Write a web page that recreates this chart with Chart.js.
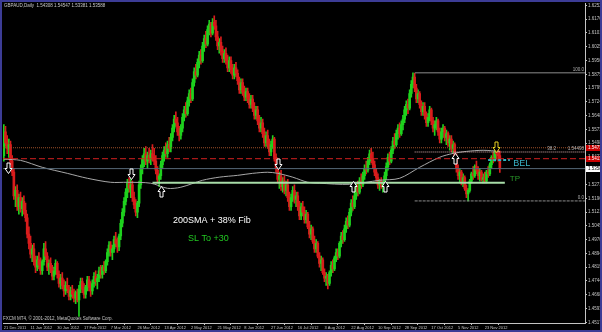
<!DOCTYPE html>
<html>
<head>
    <title>GBPAUD Daily</title>
    <meta charset="UTF-8">
    <script src="https://cdn.jsdelivr.net/npm/chart.js@4.4.0/dist/chart.umd.min.js"></script>
    <style>
        html, body { margin: 0; padding: 0; background-color: #000; }
        #wrap { width: 602px; height: 332px; }
    </style>
</head>
<body>
<div id="wrap"><canvas id="chart" width="602" height="332"></canvas></div>
<script>
// ---- data ----
var headerText = 'GBPAUD,Daily  1.54308 1.54547 1.53381 1.53588';
var footerText = 'FXCM MT4, \u00a9 2001-2012, MetaQuotes Software Corp.';

var dateLabels = ['21 Dec 2011', '11 Jan 2012', '30 Jan 2012', '17 Feb 2012', '7 Mar 2012', '26 Mar 2012',
    '13 Apr 2012', '2 May 2012', '21 May 2012', '8 Jun 2012', '27 Jun 2012', '16 Jul 2012', '3 Aug 2012',
    '22 Aug 2012', '10 Sep 2012', '28 Sep 2012', '17 Oct 2012', '5 Nov 2012', '23 Nov 2012'];
var dateBars = [0, 16, 32, 48, 64, 80, 96, 112, 128, 144, 160, 176, 192, 208, 224, 240, 256, 272, 288];

var priceTicks = [1.62520, 1.61766, 1.61012, 1.60258, 1.59504, 1.58750, 1.57996, 1.57242, 1.56488, 1.55734,
    1.54980, 1.54226, 1.53472, 1.52718, 1.51964, 1.51210, 1.50456, 1.49702, 1.48948, 1.48194, 1.47440,
    1.46686, 1.45932, 1.45178];

var opens = [
1.5430,1.5560,1.5500,1.5470,1.5490,1.5400, 1.5340,1.5210,1.5240,1.5150,1.5200,1.5140,
1.5180,1.5130,1.5090,1.5000,1.4950,1.4890, 1.4920,1.4850,1.4820,1.4860,1.4830,1.4800,
1.4850,1.4920,1.4880,1.4820,1.4840,1.4810, 1.4770,1.4800,1.4840,1.4780,1.4730,1.4760,
1.4720,1.4690,1.4720,1.4700,1.4660,1.4690, 1.4670,1.4650,1.4680,1.4640,1.4700,1.4740,
1.4700,1.4670,1.4710,1.4750,1.4710,1.4690, 1.4730,1.4770,1.4740,1.4760,1.4800,1.4780,
1.4820,1.4800,1.4850,1.4900,1.4940,1.4900, 1.4920,1.4970,1.4950,1.4930,1.4990,1.5060,
1.5120,1.5180,1.5230,1.5280,1.5250,1.5270, 1.5200,1.5160,1.5120,1.5170,1.5270,1.5360,
1.5410,1.5440,1.5400,1.5430,1.5410,1.5440, 1.5420,1.5400,1.5350,1.5300,1.5320,1.5380,
1.5430,1.5460,1.5440,1.5490,1.5470,1.5530, 1.5580,1.5630,1.5610,1.5560,1.5540,1.5580,
1.5640,1.5680,1.5660,1.5730,1.5770,1.5740, 1.5830,1.5890,1.5870,1.5940,1.5980,1.5950,
1.6030,1.6070,1.6040,1.6120,1.6150,1.6100, 1.6160,1.6140,1.6080,1.6030,1.6050,1.6000,
1.5960,1.5990,1.5950,1.5910,1.5950,1.5900, 1.5870,1.5910,1.5880,1.5840,1.5790,1.5830,
1.5780,1.5750,1.5780,1.5740,1.5710,1.5740, 1.5690,1.5650,1.5680,1.5620,1.5580,1.5610,
1.5550,1.5500,1.5540,1.5490,1.5450,1.5490, 1.5520,1.5420,1.5360,1.5300,1.5320,1.5260,
1.5290,1.5240,1.5270,1.5200,1.5150,1.5200, 1.5240,1.5190,1.5210,1.5150,1.5100,1.5150,
1.5120,1.5080,1.5110,1.5040,1.5000,1.5030, 1.4960,1.4920,1.4950,1.4880,1.4840,1.4860,
1.4790,1.4760,1.4770,1.4730,1.4790,1.4830, 1.4810,1.4870,1.4900,1.4880,1.4950,1.4990,
1.4970,1.5030,1.5070,1.5050,1.5120,1.5170, 1.5150,1.5210,1.5260,1.5230,1.5290,1.5270,
1.5320,1.5360,1.5350,1.5400,1.5440,1.5410, 1.5380,1.5340,1.5310,1.5270,1.5290,1.5260,
1.5280,1.5320,1.5370,1.5420,1.5400,1.5460, 1.5510,1.5490,1.5550,1.5580,1.5550,1.5600,
1.5630,1.5680,1.5710,1.5690,1.5770,1.5820, 1.5860,1.5800,1.5740,1.5770,1.5710,1.5670,
1.5700,1.5650,1.5610,1.5640,1.5680,1.5620, 1.5580,1.5600,1.5620,1.5560,1.5520,1.5560,
1.5580,1.5530,1.5550,1.5500,1.5520,1.5470, 1.5490,1.5420,1.5360,1.5320,1.5340,1.5290,
1.5310,1.5250,1.5220,1.5240,1.5290,1.5330, 1.5320,1.5370,1.5350,1.5320,1.5340,1.5300,
1.5310,1.5290,1.5340,1.5330,1.5380,1.5420, 1.5410,1.5450,1.5440,1.54308];

var highs = [
1.5600,1.5590,1.5540,1.5520,1.5510,1.5430, 1.5360,1.5260,1.5270,1.5220,1.5230,1.5200,
1.5210,1.5170,1.5110,1.5040,1.4990,1.4940, 1.4950,1.4880,1.4880,1.4900,1.4870,1.4860,
1.4950,1.4960,1.4900,1.4860,1.4870,1.4830, 1.4820,1.4860,1.4850,1.4800,1.4780,1.4790,
1.4750,1.4740,1.4760,1.4720,1.4710,1.4720, 1.4700,1.4690,1.4700,1.4720,1.4760,1.4760,
1.4730,1.4720,1.4770,1.4770,1.4740,1.4750, 1.4790,1.4800,1.4780,1.4820,1.4830,1.4830,
1.4850,1.4860,1.4920,1.4960,1.4960,1.4940, 1.4990,1.5010,1.4980,1.5000,1.5080,1.5140,
1.5200,1.5250,1.5300,1.5310,1.5300,1.5290, 1.5230,1.5190,1.5180,1.5290,1.5380,1.5430,
1.5470,1.5480,1.5450,1.5470,1.5460,1.5490, 1.5470,1.5430,1.5370,1.5330,1.5400,1.5450,
1.5480,1.5500,1.5510,1.5530,1.5550,1.5600, 1.5650,1.5670,1.5640,1.5590,1.5600,1.5660,
1.5700,1.5720,1.5750,1.5790,1.5800,1.5850, 1.5910,1.5930,1.5960,1.6000,1.6010,1.6050,
1.6090,1.6110,1.6140,1.6170,1.6160,1.6180, 1.6195,1.6170,1.6110,1.6070,1.6080,1.6030,
1.6010,1.6020,1.5980,1.5970,1.5970,1.5930, 1.5930,1.5940,1.5900,1.5860,1.5850,1.5850,
1.5810,1.5800,1.5800,1.5770,1.5760,1.5760, 1.5720,1.5700,1.5700,1.5650,1.5640,1.5630,
1.5580,1.5560,1.5570,1.5520,1.5510,1.5540, 1.5530,1.5440,1.5380,1.5340,1.5350,1.5310,
1.5320,1.5290,1.5300,1.5230,1.5220,1.5260, 1.5270,1.5230,1.5230,1.5180,1.5170,1.5180,
1.5150,1.5130,1.5120,1.5070,1.5050,1.5040, 1.4990,1.4970,1.4960,1.4900,1.4880,1.4870,
1.4810,1.4790,1.4780,1.4800,1.4850,1.4860, 1.4880,1.4920,1.4920,1.4960,1.5010,1.5020,
1.5050,1.5090,1.5100,1.5140,1.5190,1.5210, 1.5230,1.5280,1.5290,1.5310,1.5330,1.5340,
1.5380,1.5400,1.5420,1.5460,1.5470,1.5450, 1.5400,1.5360,1.5330,1.5300,1.5310,1.5290,
1.5340,1.5390,1.5440,1.5450,1.5480,1.5530, 1.5550,1.5570,1.5600,1.5610,1.5620,1.5650,
1.5700,1.5730,1.5740,1.5790,1.5840,1.5883, 1.5880,1.5820,1.5790,1.5780,1.5730,1.5720,
1.5720,1.5670,1.5660,1.5700,1.5690,1.5640, 1.5620,1.5640,1.5630,1.5580,1.5580,1.5600,
1.5590,1.5570,1.5560,1.5540,1.5540,1.5510, 1.5500,1.5440,1.5380,1.5360,1.5350,1.5330,
1.5320,1.5270,1.5250,1.5300,1.5340,1.5370, 1.5380,1.5400,1.5370,1.5360,1.5350,1.5330,
1.5340,1.5350,1.5370,1.5390,1.5430,1.5450, 1.5470,1.5480,1.5470,1.54547];

var lows = [
1.5400,1.5480,1.5440,1.5420,1.5380,1.5320, 1.5190,1.5150,1.5130,1.5110,1.5120,1.5100,
1.5110,1.5070,1.4980,1.4920,1.4870,1.4850, 1.4830,1.4790,1.4800,1.4810,1.4780,1.4780,
1.4830,1.4860,1.4800,1.4780,1.4790,1.4750, 1.4750,1.4780,1.4760,1.4710,1.4700,1.4700,
1.4660,1.4670,1.4680,1.4640,1.4640,1.4650, 1.4630,1.4620,1.4630,1.4550,1.4680,1.4680,
1.4650,1.4650,1.4690,1.4690,1.4660,1.4670, 1.4710,1.4720,1.4700,1.4740,1.4760,1.4760,
1.4780,1.4790,1.4830,1.4880,1.4880,1.4860, 1.4900,1.4930,1.4900,1.4910,1.4970,1.5040,
1.5100,1.5160,1.5200,1.5230,1.5200,1.5180, 1.5140,1.5100,1.5090,1.5150,1.5250,1.5330,
1.5370,1.5380,1.5360,1.5390,1.5380,1.5400, 1.5380,1.5330,1.5280,1.5260,1.5300,1.5360,
1.5400,1.5420,1.5420,1.5450,1.5450,1.5510, 1.5560,1.5590,1.5540,1.5510,1.5520,1.5560,
1.5620,1.5640,1.5650,1.5700,1.5720,1.5730, 1.5810,1.5850,1.5860,1.5910,1.5930,1.5940,
1.6000,1.6020,1.6030,1.6090,1.6080,1.6090, 1.6120,1.6060,1.6010,1.5990,1.5980,1.5940,
1.5940,1.5930,1.5890,1.5890,1.5880,1.5850, 1.5850,1.5860,1.5820,1.5770,1.5770,1.5760,
1.5730,1.5730,1.5720,1.5690,1.5690,1.5670, 1.5630,1.5630,1.5600,1.5560,1.5560,1.5530,
1.5480,1.5480,1.5470,1.5430,1.5430,1.5470, 1.5400,1.5340,1.5280,1.5250,1.5240,1.5230,
1.5220,1.5210,1.5180,1.5130,1.5130,1.5180, 1.5170,1.5150,1.5130,1.5080,1.5080,1.5100,
1.5060,1.5060,1.5030,1.4980,1.4970,1.4950, 1.4900,1.4900,1.4870,1.4820,1.4800,1.4780,
1.4740,1.4720,1.4700,1.4720,1.4770,1.4790, 1.4800,1.4850,1.4860,1.4870,1.4930,1.4950,
1.4960,1.5010,1.5030,1.5040,1.5100,1.5130, 1.5140,1.5190,1.5210,1.5220,1.5250,1.5260,
1.5300,1.5330,1.5340,1.5380,1.5390,1.5360, 1.5320,1.5290,1.5250,1.5240,1.5250,1.5230,
1.5260,1.5300,1.5350,1.5380,1.5390,1.5440, 1.5470,1.5480,1.5520,1.5530,1.5540,1.5570,
1.5610,1.5650,1.5660,1.5680,1.5750,1.5800, 1.5780,1.5720,1.5720,1.5690,1.5650,1.5650,
1.5630,1.5590,1.5590,1.5620,1.5600,1.5560, 1.5540,1.5570,1.5540,1.5500,1.5500,1.5530,
1.5510,1.5490,1.5480,1.5460,1.5450,1.5440, 1.5410,1.5340,1.5300,1.5280,1.5270,1.5260,
1.5240,1.5200,1.5182,1.5230,1.5280,1.5300, 1.5310,1.5330,1.5300,1.5290,1.5290,1.5280,
1.5280,1.5280,1.5310,1.5320,1.5360,1.5390, 1.5400,1.5410,1.5400,1.53381];

var closes = [
1.5560,1.5500,1.5470,1.5490,1.5400,1.5340, 1.5210,1.5240,1.5150,1.5200,1.5140,1.5180,
1.5130,1.5090,1.5000,1.4950,1.4890,1.4920, 1.4850,1.4820,1.4860,1.4830,1.4800,1.4850,
1.4920,1.4880,1.4820,1.4840,1.4810,1.4770, 1.4800,1.4840,1.4780,1.4730,1.4760,1.4720,
1.4690,1.4720,1.4700,1.4660,1.4690,1.4670, 1.4650,1.4680,1.4640,1.4700,1.4740,1.4700,
1.4670,1.4710,1.4750,1.4710,1.4690,1.4730, 1.4770,1.4740,1.4760,1.4800,1.4780,1.4820,
1.4800,1.4850,1.4900,1.4940,1.4900,1.4920, 1.4970,1.4950,1.4930,1.4990,1.5060,1.5120,
1.5180,1.5230,1.5280,1.5250,1.5270,1.5200, 1.5160,1.5120,1.5170,1.5270,1.5360,1.5410,
1.5440,1.5400,1.5430,1.5410,1.5440,1.5420, 1.5400,1.5350,1.5300,1.5320,1.5380,1.5430,
1.5460,1.5440,1.5490,1.5470,1.5530,1.5580, 1.5630,1.5610,1.5560,1.5540,1.5580,1.5640,
1.5680,1.5660,1.5730,1.5770,1.5740,1.5830, 1.5890,1.5870,1.5940,1.5980,1.5950,1.6030,
1.6070,1.6040,1.6120,1.6150,1.6100,1.6160, 1.6140,1.6080,1.6030,1.6050,1.6000,1.5960,
1.5990,1.5950,1.5910,1.5950,1.5900,1.5870, 1.5910,1.5880,1.5840,1.5790,1.5830,1.5780,
1.5750,1.5780,1.5740,1.5710,1.5740,1.5690, 1.5650,1.5680,1.5620,1.5580,1.5610,1.5550,
1.5500,1.5540,1.5490,1.5450,1.5490,1.5520, 1.5420,1.5360,1.5300,1.5320,1.5260,1.5290,
1.5240,1.5270,1.5200,1.5150,1.5200,1.5240, 1.5190,1.5210,1.5150,1.5100,1.5150,1.5120,
1.5080,1.5110,1.5040,1.5000,1.5030,1.4960, 1.4920,1.4950,1.4880,1.4840,1.4860,1.4790,
1.4760,1.4770,1.4730,1.4790,1.4830,1.4810, 1.4870,1.4900,1.4880,1.4950,1.4990,1.4970,
1.5030,1.5070,1.5050,1.5120,1.5170,1.5150, 1.5210,1.5260,1.5230,1.5290,1.5270,1.5320,
1.5360,1.5350,1.5400,1.5440,1.5410,1.5380, 1.5340,1.5310,1.5270,1.5290,1.5260,1.5280,
1.5320,1.5370,1.5420,1.5400,1.5460,1.5510, 1.5490,1.5550,1.5580,1.5550,1.5600,1.5630,
1.5680,1.5710,1.5690,1.5770,1.5820,1.5860, 1.5800,1.5740,1.5770,1.5710,1.5670,1.5700,
1.5650,1.5610,1.5640,1.5680,1.5620,1.5580, 1.5600,1.5620,1.5560,1.5520,1.5560,1.5580,
1.5530,1.5550,1.5500,1.5520,1.5470,1.5490, 1.5420,1.5360,1.5320,1.5340,1.5290,1.5310,
1.5250,1.5220,1.5240,1.5290,1.5330,1.5320, 1.5370,1.5350,1.5320,1.5340,1.5300,1.5310,
1.5290,1.5340,1.5330,1.5380,1.5420,1.5410, 1.5450,1.5440,1.5430,1.53588];

// 200 SMA, read at these bars
var smaBars = [0, 10, 23, 38, 50, 64, 74, 88, 98, 106, 119, 129, 140, 149, 158, 164, 173, 182, 189,
    207, 225, 237, 249, 261, 269, 277, 287, 297];
var smaValues = [1.5410, 1.5404, 1.5366, 1.5333, 1.5306, 1.5284, 1.5284, 1.5279, 1.5251, 1.5257, 1.5295,
    1.5312, 1.5322, 1.5333, 1.5339, 1.5333, 1.5312, 1.5284, 1.5279, 1.5273, 1.5295, 1.5306, 1.5366,
    1.5421, 1.5442, 1.5453, 1.5459, 1.5453];

// horizontal objects: price, first bar, last bar
var levelNames = ['resistance', 'stop', 'bid', 'tp', 'fib100', 'fib382', 'fib0', 'bel'];
var levelPrices = [1.5473, 1.5413, 1.53588, 1.5282, 1.5883, 1.54498, 1.5182, 1.5406];
var levelFrom = [-0.5, -0.5, -0.5, 89, 246, 246, 246, 290];
var levelTo = [348, 348, 348, 300, 348, 348, 348, 303];

// arrows
var arrowBars = [2.5, 76, 94, 164, 209, 228, 270, 295];
var arrowPrices = [1.5361, 1.5328, 1.5235, 1.5383, 1.5262, 1.5262, 1.5415, 1.5478];
var arrowDirs = ['down', 'down', 'up', 'down', 'up', 'up', 'up', 'down'];

// text notes
var noteTexts = ['200SMA + 38% Fib', 'SL To +30', 'BEL', 'TP'];
var noteBars = [101.3, 110.3, 305, 303];
var notePrices = [1.5077, 1.4978, 1.5388, 1.5301];

// ---- styles ----
var UP = '#1ed21e', DOWN = '#d81c1c', AXIS = '#c4c4c4';
var levelStyles = {
    resistance: { color: '#a0502a', width: 1, dash: [1, 1] },
    stop: { color: '#d42020', width: 1, dash: [6, 3] },
    bid: { color: '#566878', width: 1, dash: [] },
    tp: { color: '#a8dca8', width: 2, dash: [] },
    fib100: { color: '#8c8c8c', width: 1, dash: [] },
    fib382: { color: '#dcb0b0', width: 1, dash: [1, 1] },
    fib0: { color: '#8c8c8c', width: 1, dash: [3, 1] },
    bel: { color: '#2cb4c4', width: 2, dash: [3, 2] }
};
var arrowColors = ['#fff', '#fff', '#fff', '#fff', '#fff', '#fff', '#fff', '#e8d020'];
var noteStyles = [
    { color: '#ffffff', font: '9px "Liberation Sans"' },
    { color: '#22c822', font: '9px "Liberation Sans"' },
    { color: '#3ab4c8', font: '9px "Liberation Sans"' },
    { color: '#2a9a2a', font: '8px "Liberation Sans"' }
];
var SMALL = '4.5px "Liberation Sans"';

function candleColors() {
    return closes.map(function (c, i) { return c >= opens[i] ? UP : DOWN; });
}

var datasets = [];

// level lines
levelNames.forEach(function (name, k) {
    var st = levelStyles[name];
    datasets.push({
        type: 'line',
        data: [{ x: levelFrom[k], y: levelPrices[k] }, { x: levelTo[k], y: levelPrices[k] }],
        borderColor: st.color,
        borderWidth: st.width,
        borderDash: st.dash,
        pointRadius: 0,
        order: 0
    });
});

// moving average
datasets.push({
    type: 'line',
    data: smaBars.map(function (b, i) { return { x: b, y: smaValues[i] }; }),
    borderColor: '#a8a8a8',
    borderWidth: 1,
    pointRadius: 0,
    tension: 0.3,
    order: 0
});

// candle bodies and wicks as floating bars
datasets.push({
    type: 'bar',
    data: opens.map(function (o, i) { return { x: i, y: [o, closes[i]] }; }),
    backgroundColor: candleColors(),
    barThickness: 2,
    grouped: false,
    borderWidth: 0,
    order: 1
});
datasets.push({
    type: 'bar',
    data: lows.map(function (l, i) { return { x: i, y: [l, highs[i]] }; }),
    backgroundColor: candleColors(),
    barThickness: 1,
    grouped: false,
    borderWidth: 0,
    order: 2
});

function drawArrow(c, x, y, dir, col) {
    var s = dir === 'down' ? 1 : -1;
    x = Math.round(x) + 0.5;
    y = Math.round(y) + 0.5;
    c.beginPath();
    c.moveTo(x - 1.5, y - 5.5 * s);
    c.lineTo(x + 1.5, y - 5.5 * s);
    c.lineTo(x + 1.5, y);
    c.lineTo(x + 3.5, y);
    c.lineTo(x, y + 5 * s);
    c.lineTo(x - 3.5, y);
    c.lineTo(x - 1.5, y);
    c.closePath();
    c.fillStyle = '#000';
    c.fill();
    c.strokeStyle = col;
    c.lineWidth = 1;
    c.stroke();
}

function priceBox(c, y, fill, textCol, label) {
    c.fillStyle = fill;
    c.fillRect(586, Math.round(y) - 3, 16, 6);
    c.fillStyle = textCol;
    c.font = SMALL;
    c.textAlign = 'left';
    c.textBaseline = 'middle';
    c.fillText(label, 588, Math.round(y));
}

var decor = {
    id: 'decor',
    beforeDraw: function (chart) {
        var c = chart.ctx;
        c.save();
        c.fillStyle = '#000';
        c.fillRect(0, 0, chart.width, chart.height);
        c.restore();
    },
    afterDraw: function (chart) {
        var c = chart.ctx, xs = chart.scales.x, ys = chart.scales.y;
        c.save();

        // arrows
        arrowBars.forEach(function (b, k) {
            drawArrow(c, xs.getPixelForValue(b), ys.getPixelForValue(arrowPrices[k]), arrowDirs[k], arrowColors[k]);
        });

        // notes
        noteTexts.forEach(function (t, k) {
            c.font = noteStyles[k].font;
            c.fillStyle = noteStyles[k].color;
            c.textAlign = 'left';
            c.textBaseline = 'middle';
            c.fillText(t, xs.getPixelForValue(noteBars[k]), ys.getPixelForValue(notePrices[k]));
        });

        // fibo labels
        c.font = SMALL;
        c.fillStyle = '#b0b0b0';
        c.textAlign = 'right';
        c.textBaseline = 'bottom';
        var r = xs.right - 1;
        c.fillText('100.0', r, ys.getPixelForValue(levelPrices[4]) - 1);
        c.fillText(levelPrices[5].toFixed(5), r, ys.getPixelForValue(levelPrices[5]) - 1);
        c.fillText('38.2', r - 28, ys.getPixelForValue(levelPrices[5]) - 1);
        c.fillText('0.0', r, ys.getPixelForValue(levelPrices[6]) - 1);

        // price boxes on the axis
        priceBox(c, ys.getPixelForValue(levelPrices[0]), '#c80000', '#fff', levelPrices[0].toFixed(5));
        priceBox(c, ys.getPixelForValue(levelPrices[1]), '#c80000', '#fff', levelPrices[1].toFixed(5));
        priceBox(c, ys.getPixelForValue(levelPrices[2]), '#ffffff', '#000', levelPrices[2].toFixed(5));

        // header and footer
        c.font = SMALL;
        c.fillStyle = '#c8c8c8';
        c.textAlign = 'left';
        c.textBaseline = 'middle';
        c.fillText(headerText, 4, 6);
        c.fillText(footerText, 3, 319);

        // window frame
        c.strokeStyle = '#3c3c96';
        c.lineWidth = 2;
        c.strokeRect(1, 1, chart.width - 2, chart.height - 2);
        c.restore();
    }
};

new Chart(document.getElementById('chart').getContext('2d'), {
    type: 'bar',
    data: { datasets: datasets },
    plugins: [decor],
    options: {
        responsive: false,
        animation: false,
        events: [],
        layout: { padding: { left: 3, top: 3, right: 0, bottom: 0 } },
        plugins: { legend: { display: false }, tooltip: { enabled: false } },
        scales: {
            x: {
                type: 'linear',
                offset: false,
                min: -0.5,
                max: 348,
                afterBuildTicks: function (scale) {
                    scale.ticks = dateBars.map(function (b) { return { value: b }; });
                },
                afterFit: function (scale) { scale.height = 9; },
                grid: { display: true, drawOnChartArea: false, color: AXIS, tickLength: 2 },
                border: { color: AXIS },
                ticks: {
                    autoSkip: false,
                    maxRotation: 0,
                    align: 'start',
                    padding: 0,
                    color: AXIS,
                    font: { family: 'Liberation Sans', size: 4 },
                    callback: function (v) {
                        var k = dateBars.indexOf(v);
                        return k >= 0 ? dateLabels[k] : '';
                    }
                }
            },
            y: {
                position: 'right',
                min: 1.45140,
                max: 1.62613,
                afterBuildTicks: function (scale) {
                    scale.ticks = priceTicks.map(function (p) { return { value: p }; });
                },
                afterFit: function (scale) { scale.width = 17; },
                grid: { display: true, drawOnChartArea: false, color: AXIS, tickLength: 2 },
                border: { color: AXIS },
                ticks: {
                    autoSkip: false,
                    padding: 1,
                    color: AXIS,
                    font: { family: 'Liberation Sans', size: 4.5 },
                    callback: function (v) { return v.toFixed(5); }
                }
            }
        }
    }
});
</script>
</body>
</html>
